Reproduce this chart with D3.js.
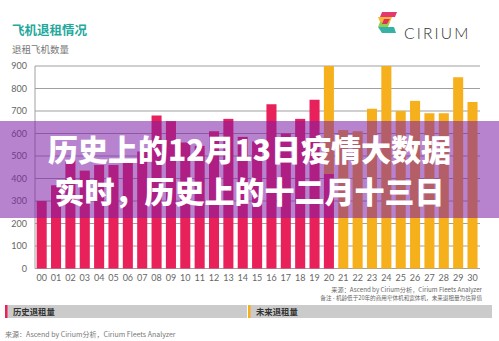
<!DOCTYPE html>
<html><head><meta charset="utf-8">
<script src="https://cdn.jsdelivr.net/npm/d3@7"></script>
<style>
html,body{margin:0;padding:0;background:#fff;}
svg{display:block;}
</style></head>
<body>
<svg id="c" width="499" height="341"></svg>
<script>
const categories = ["00","01","02","03","04","05","06","07","08","09","10","11","12","13","14","15","16","17","18","19","20","21","22","23","24","25","26","27","28","29","30"];
const historical = [300,370,480,435,460,460,470,520,680,655,560,545,610,665,585,565,730,600,665,750,420,0,0,0,0,0,0,0,0,0,0];
const future     = [0,0,0,0,0,0,0,0,0,0,0,0,0,0,0,0,0,0,0,0,480,615,610,710,900,700,745,690,690,850,740];
const yTicks = [0,100,200,300,400,500,600,700,800,900];
const title = "飞机退租情况";
const subtitle = "退租飞机数量";
const bannerLines = ["历史上的12月13日疫情大数据", "实时，历史上的十二月十三日"];
const legendLabels = ["历史退租量", "未来退租量"];
const sourceText = "来源：Ascend by Cirium分析，Cirium Fleets Analyzer";
const noteText = "备注 - 机龄低于20年的商用窄体机和宽体机，未来退租量为估算值";

const colors = {hist:"#e8215a", fut:"#f6b01c", grid:"#a0a0a0", teal:"#1fa89c"};
const svg = d3.select("#c");
const font = "Lato, 'Open Sans', sans-serif";
const cjk = "'Noto Sans CJK SC', 'Noto Sans', sans-serif";

const x = d3.scaleBand().domain(categories).range([34.5, 479.7]).paddingInner(0.3).paddingOuter(0.15);
const y = d3.scaleLinear().domain([0,900]).range([268.5, 66]);

// title
svg.append("text").attr("x",12).attr("y",35).attr("font-family",cjk).attr("font-weight","bold")
  .attr("font-size",12.5).attr("fill",colors.teal).text(title);
svg.append("text").attr("x",12).attr("y",53).attr("font-family",cjk)
  .attr("font-size",9.5).attr("fill","#777").text(subtitle);

// logo
const lg = svg.append("g").attr("transform","translate(378,12)");
const stripes = [
  {c:"#e0245e", pts:[[4,0],[19,0],[17,5],[2,5]]},
  {c:"#f2b21c", pts:[[0,5],[14,5],[12,10],[2,10]]},
  {c:"#8cc63e", pts:[[2,10],[12,10],[10,15],[0,15]]},
  {c:"#1fa89c", pts:[[0,15],[16,15],[18,21],[4,21]]},
  {c:"#e0245e", pts:[[6,7],[12,7],[9,12],[4,12]]}
];
stripes.forEach(s=>lg.append("polygon").attr("points",s.pts.map(p=>p.join(",")).join(" ")).attr("fill",s.c).attr("opacity",0.9));
svg.append("text").attr("x",404).attr("y",39).attr("font-family","Lato, sans-serif").attr("font-weight",300)
  .attr("font-size",15.5).attr("letter-spacing",2.2).attr("fill","#333").text("CIRIUM");

// gridlines
svg.append("g").selectAll("line").data(yTicks).join("line")
  .attr("x1",35).attr("x2",480).attr("y1",d=>y(d)).attr("y2",d=>y(d))
  .attr("stroke",colors.grid).attr("stroke-width",1);
svg.append("line").attr("x1",35).attr("x2",35).attr("y1",y(900)).attr("y2",y(0)).attr("stroke",colors.grid);

// y axis
const ya = svg.append("g").attr("transform","translate(35,0)")
  .call(d3.axisLeft(y).tickValues(yTicks).tickSize(0).tickPadding(8));
ya.select(".domain").remove();
ya.selectAll("text").attr("font-family",font).attr("font-size",9).attr("fill","#666");

// bars
const bars = svg.append("g");
bars.selectAll("rect.h").data(categories).join("rect").attr("class","h")
  .attr("x",d=>x(d)).attr("width",x.bandwidth())
  .attr("y",(d,i)=>y(historical[i])).attr("height",(d,i)=>y(0)-y(historical[i]))
  .attr("fill",colors.hist);
bars.selectAll("rect.f").data(categories).join("rect").attr("class","f")
  .attr("x",d=>x(d)).attr("width",x.bandwidth())
  .attr("y",(d,i)=>y(historical[i]+future[i])).attr("height",(d,i)=>y(historical[i])-y(historical[i]+future[i]))
  .attr("fill",colors.fut);

// x axis
const xa = svg.append("g").attr("transform","translate(0,"+y(0)+")")
  .call(d3.axisBottom(x).tickSize(0).tickPadding(6));
xa.select(".domain").remove();
xa.selectAll("text").attr("font-family",font).attr("font-size",9).attr("fill","#666");

// source notes top right
svg.append("text").attr("x",482).attr("y",292).attr("text-anchor","end").attr("font-family",cjk)
  .attr("font-size",6.2).attr("fill","#666").text(sourceText);
svg.append("text").attr("x",482).attr("y",300).attr("text-anchor","end").attr("font-family",cjk)
  .attr("font-size",5.6).attr("fill","#666").text(noteText);

// legend bands
const legendPos = [{x0:5,x1:247,c:colors.hist},{x0:248,x1:492,c:colors.fut}];
legendPos.forEach((p,i)=>{
  svg.append("rect").attr("x",p.x0).attr("y",305).attr("width",p.x1-p.x0).attr("height",13).attr("fill","#cbcbcb");
  svg.append("rect").attr("x",p.x0).attr("y",305).attr("width",2.5).attr("height",13).attr("fill",p.c);
  svg.append("text").attr("x",p.x0+8).attr("y",315).attr("font-family",cjk).attr("font-weight","bold")
    .attr("font-size",8.4).attr("fill","#333").text(legendLabels[i]);
});
svg.append("text").attr("x",5).attr("y",337).attr("font-family",cjk)
  .attr("font-size",7).attr("fill","#777").text(sourceText);

// banner overlay
svg.append("rect").attr("x",0).attr("y",121).attr("width",499).attr("height",97)
  .attr("fill","rgb(125,30,165)").attr("opacity",0.55);
bannerLines.forEach((t,i)=>{
  svg.append("text").attr("x",249.5).attr("y",161+i*42).attr("text-anchor","middle")
    .attr("font-family",cjk).attr("font-weight",900).attr("font-size",30)
    .attr("fill","#fff").text(t);
});
</script>
</body></html>
